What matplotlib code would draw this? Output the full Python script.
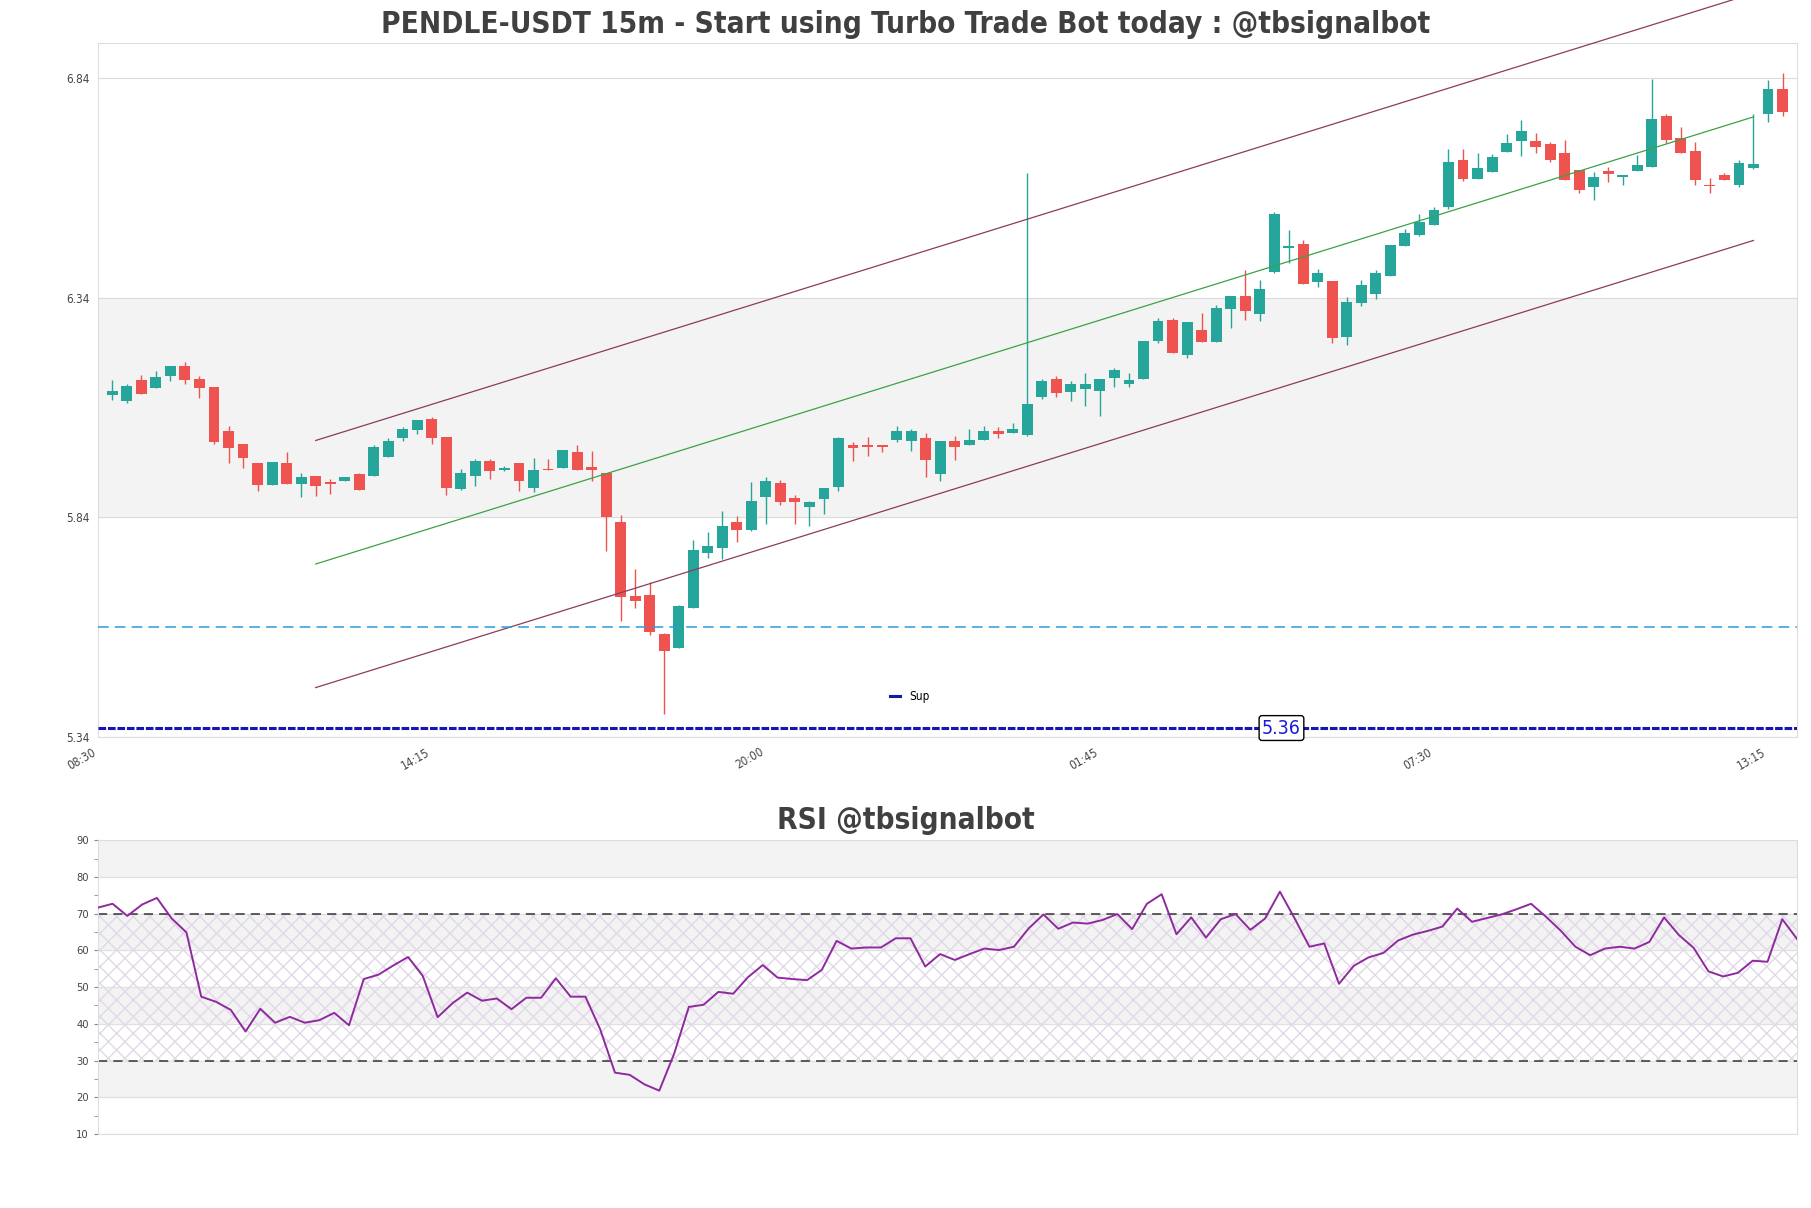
"""Recreate PENDLE-USDT 15m candlestick chart with channel + RSI panel."""
import matplotlib
matplotlib.use("Agg")
import matplotlib.pyplot as plt
from matplotlib.lines import Line2D
import numpy as np

plt.rcParams["font.family"] = ["DejaVu Sans"]
plt.rcParams["font.stretch"] = "condensed"

# ---------------------------------------------------------------------------
# Data
# ---------------------------------------------------------------------------
OPEN = [6.117, 6.103, 6.151, 6.133, 6.161, 6.183, 6.153, 6.135, 6.035, 6.007,
        5.962, 5.912, 5.962, 5.914, 5.934, 5.920, 5.921, 5.937, 5.934, 5.976,
        6.019, 6.038, 6.062, 6.022, 5.903, 5.933, 5.968, 5.946, 5.962, 5.905,
        5.949, 5.951, 5.987, 5.953, 5.939, 5.829, 5.661, 5.663, 5.574, 5.543,
        5.633, 5.759, 5.769, 5.829, 5.811, 5.885, 5.918, 5.884, 5.862, 5.882,
        5.908, 6.004, 6.004, 6.004, 6.014, 6.012, 6.020, 5.938, 6.012, 6.003,
        6.016, 6.035, 6.031, 6.027, 6.114, 6.154, 6.125, 6.130, 6.127, 6.157,
        6.142, 6.153, 6.241, 6.289, 6.209, 6.265, 6.237, 6.313, 6.343, 6.301,
        6.398, 6.451, 6.462, 6.374, 6.377, 6.249, 6.326, 6.347, 6.388, 6.457,
        6.481, 6.503, 6.544, 6.652, 6.609, 6.624, 6.671, 6.696, 6.695, 6.688,
        6.669, 6.629, 6.591, 6.627, 6.614, 6.628, 6.637, 6.752, 6.703, 6.672,
        6.595, 6.618, 6.594, 6.633, 6.756, 6.813]
HIGH = [6.151, 6.142, 6.162, 6.173, 6.183, 6.193, 6.161, 6.135, 6.048, 6.007,
        5.962, 5.964, 5.987, 5.939, 5.934, 5.927, 5.932, 5.940, 6.003, 6.019,
        6.045, 6.061, 6.067, 6.022, 5.950, 5.973, 5.971, 5.955, 5.962, 5.975,
        5.971, 5.993, 6.004, 5.991, 5.939, 5.845, 5.722, 5.693, 5.576, 5.640,
        5.788, 5.807, 5.854, 5.842, 5.919, 5.930, 5.925, 5.890, 5.877, 5.906,
        6.022, 6.011, 6.022, 6.004, 6.048, 6.041, 6.031, 6.012, 6.025, 6.039,
        6.048, 6.044, 6.053, 6.622, 6.154, 6.161, 6.149, 6.167, 6.154, 6.179,
        6.167, 6.240, 6.292, 6.292, 6.283, 6.305, 6.322, 6.343, 6.402, 6.380,
        6.534, 6.493, 6.470, 6.405, 6.377, 6.340, 6.380, 6.402, 6.459, 6.496,
        6.528, 6.544, 6.678, 6.677, 6.667, 6.665, 6.711, 6.743, 6.713, 6.694,
        6.697, 6.629, 6.625, 6.637, 6.618, 6.663, 6.836, 6.757, 6.726, 6.694,
        6.612, 6.622, 6.653, 6.756, 6.834, 6.849]
LOW = [6.106, 6.100, 6.120, 6.133, 6.149, 6.142, 6.111, 6.006, 5.962, 5.951,
       5.899, 5.912, 5.914, 5.885, 5.887, 5.893, 5.921, 5.901, 5.934, 5.976,
       6.013, 6.028, 6.006, 5.889, 5.902, 5.910, 5.927, 5.944, 5.899, 5.896,
       5.946, 5.951, 5.946, 5.921, 5.762, 5.604, 5.633, 5.572, 5.393, 5.543,
       5.633, 5.747, 5.745, 5.784, 5.809, 5.823, 5.868, 5.823, 5.820, 5.847,
       5.899, 5.967, 5.978, 5.987, 6.010, 5.991, 5.931, 5.921, 5.969, 6.003,
       6.014, 6.019, 6.031, 6.025, 6.108, 6.112, 6.104, 6.092, 6.070, 6.136,
       6.135, 6.153, 6.235, 6.214, 6.201, 6.237, 6.237, 6.269, 6.289, 6.286,
       6.394, 6.417, 6.371, 6.364, 6.235, 6.231, 6.320, 6.335, 6.388, 6.457,
       6.478, 6.503, 6.540, 6.605, 6.609, 6.624, 6.671, 6.662, 6.669, 6.647,
       6.606, 6.578, 6.561, 6.603, 6.594, 6.628, 6.637, 6.691, 6.667, 6.596,
       6.578, 6.606, 6.590, 6.631, 6.739, 6.753]
CLOSE = [6.126, 6.139, 6.120, 6.158, 6.183, 6.152, 6.133, 6.010, 5.997, 5.974,
         5.912, 5.964, 5.914, 5.930, 5.910, 5.916, 5.932, 5.901, 6.000, 6.012,
         6.039, 6.060, 6.019, 5.905, 5.941, 5.968, 5.944, 5.952, 5.921, 5.948,
         5.946, 5.993, 5.946, 5.946, 5.839, 5.657, 5.648, 5.579, 5.536, 5.638,
         5.766, 5.775, 5.820, 5.810, 5.877, 5.921, 5.875, 5.873, 5.873, 5.905,
         6.019, 5.997, 5.999, 5.999, 6.035, 6.035, 5.969, 6.012, 5.999, 6.016,
         6.035, 6.028, 6.041, 6.098, 6.149, 6.123, 6.142, 6.142, 6.154, 6.174,
         6.151, 6.240, 6.286, 6.214, 6.283, 6.237, 6.315, 6.343, 6.309, 6.358,
         6.529, 6.456, 6.371, 6.394, 6.246, 6.329, 6.367, 6.394, 6.459, 6.487,
         6.510, 6.538, 6.647, 6.609, 6.633, 6.658, 6.690, 6.718, 6.682, 6.652,
         6.606, 6.584, 6.613, 6.619, 6.618, 6.641, 6.745, 6.697, 6.667, 6.606,
         6.593, 6.606, 6.645, 6.642, 6.813, 6.762]

RSI = [71.65, 72.7, 69.4, 72.5, 74.3, 68.7, 64.9, 47.4, 46.0, 43.8,
       37.9, 44.1, 40.3, 41.9, 40.3, 41.0, 43.0, 39.6, 52.2, 53.4,
       55.9, 58.2, 53.0, 41.8, 45.6, 48.5, 46.3, 46.9, 44.0, 47.1,
       47.1, 52.4, 47.4, 47.4, 38.5, 26.7, 26.1, 23.5, 21.8, 31.8,
       44.6, 45.2, 48.7, 48.2, 52.7, 56.0, 52.6, 52.2, 51.9, 54.7,
       62.6, 60.5, 60.8, 60.8, 63.3, 63.3, 55.6, 59.0, 57.4, 59.0,
       60.5, 60.1, 61.0, 66.0, 69.8, 65.9, 67.6, 67.3, 68.3, 69.9,
       65.8, 72.7, 75.3, 64.4, 69.0, 63.5, 68.5, 69.9, 65.6, 68.7,
       76.0, 68.7, 61.0, 61.9, 50.9, 55.8, 58.1, 59.3, 62.7, 64.3,
       65.3, 66.5, 71.4, 67.8, 68.8, 69.8, 71.2, 72.7, 69.2, 65.4,
       61.0, 58.7, 60.5, 61.0, 60.5, 62.3, 69.0, 64.2, 60.7, 54.3,
       52.9, 53.9, 57.2, 56.9, 68.5, 63.1]

TICK_LABELS = ["08:30", "14:15", "20:00", "01:45", "07:30", "13:15"]
TICK_STEP = 23

# regression channel (bar index, mid price), half width
CHANNEL_X = [15, 114]
CHANNEL_MID = [5.733, 6.750]
CHANNEL_WIDTH = 0.281

SUPPORT = 5.36
DASHED_LEVEL = 5.590

TITLE = "PENDLE-USDT 15m - Start using Turbo Trade Bot today : @tbsignalbot"
RSI_TITLE = "RSI @tbsignalbot"

UP = "#26a69a"
DOWN = "#ef5350"
SUP_COLOR = "#1616b0"


# ---------------------------------------------------------------------------
# Price panel
# ---------------------------------------------------------------------------
def draw_price(ax):
    n = len(CLOSE)
    x = np.arange(1, n + 1)
    o, h, l, c = map(np.array, (OPEN, HIGH, LOW, CLOSE))
    up = c >= o
    colors = np.where(up, UP, DOWN)

    ymin, ymax = l.min() * 0.99, h.max() * 1.01
    ticks = np.arange(ymin, ymax, 0.5)

    # background band + grid
    ax.axhspan(ticks[1], ticks[2], color="#f3f3f3", zorder=0)
    for t in ticks:
        ax.axhline(t, color="#dcdcdc", lw=0.8, zorder=0.5)

    ax.vlines(x, l, h, colors=colors, lw=1.0, zorder=2)
    ax.bar(x, np.abs(c - o), bottom=np.minimum(o, c), width=0.75,
           color=colors, zorder=3)

    # channel
    mid = np.array(CHANNEL_MID)
    ax.plot(CHANNEL_X, mid, color="#3aa346", lw=0.9, zorder=4)
    ax.plot(CHANNEL_X, mid + CHANNEL_WIDTH, color="#8c3b5c", lw=0.9,
            zorder=4, clip_on=False)
    ax.plot(CHANNEL_X, mid - CHANNEL_WIDTH, color="#8c3b5c", lw=0.9, zorder=4)

    ax.axhline(DASHED_LEVEL, color="#2a9bdc", lw=1.1, ls=(0, (7, 4)), zorder=4)
    ax.axhline(SUPPORT, color=SUP_COLOR, lw=2.2, ls=(0, (2.5, 0.6)), zorder=4)
    ax.text(81.5, SUPPORT, f"{SUPPORT:.2f}", color="#1a1ad8", fontsize=14,
            ha="center", va="center", zorder=6,
            bbox=dict(boxstyle="round,pad=0.15", fc="white", ec="black", lw=1))

    ax.set_xlim(0, n + 1)
    ax.set_ylim(ymin, ymax)
    ax.set_yticks(ticks)
    ax.set_yticklabels([f"{t:.2f}" for t in ticks])
    ax.set_xticks(np.arange(0, n, TICK_STEP))
    ax.set_xticklabels(TICK_LABELS, rotation=30, ha="right")
    ax.tick_params(length=0, labelsize=8.5, labelcolor="#444444", pad=6)
    for s in ax.spines.values():
        s.set_color("#dddddd")

    handle = Line2D([], [], color=SUP_COLOR, lw=2.2)
    ax.legend([handle], ["Sup"], loc="center", bbox_to_anchor=(0.478, 0.058),
              frameon=False, fontsize=8.5, handlelength=0.8)


# ---------------------------------------------------------------------------
# RSI panel
# ---------------------------------------------------------------------------
def draw_rsi(ax):
    k = np.arange(len(RSI))
    for lo in (20, 40, 60, 80):
        ax.axhspan(lo, lo + 10, color="#f3f3f3", zorder=0)
    ax.axhspan(30, 70, facecolor="none", hatch="xx", edgecolor="#e2d8e8",
               lw=0, zorder=0.6)
    for t in range(10, 100, 10):
        ax.axhline(t, color="#e0e0e0", lw=0.8, zorder=0.5)
    ax.axhline(70, color="#333333", lw=1.1, ls=(0, (6, 4)), zorder=2)
    ax.axhline(30, color="#333333", lw=1.1, ls=(0, (6, 4)), zorder=2)
    ax.plot(k, RSI, color="#8e2a9e", lw=1.4, zorder=3)

    ax.set_xlim(0, len(RSI) - 1)
    ax.set_ylim(10, 90)
    ax.set_yticks(range(10, 100, 10))
    ax.set_yticks(range(15, 90, 10), minor=True)
    ax.set_xticks([])
    ax.tick_params(axis="y", which="both", length=3, color="#888888",
                   labelsize=8, labelcolor="#444444")
    for s in ax.spines.values():
        s.set_color("#dddddd")


def main():
    fig = plt.figure(figsize=(18.11, 12.08), dpi=100)
    ax = fig.add_axes([0.054, 0.3897, 0.9383, 0.5745])
    ax_rsi = fig.add_axes([0.054, 0.0613, 0.9383, 0.2431])

    draw_price(ax)
    draw_rsi(ax_rsi)

    fig.text(0.5, 1 - 33 / 1208, TITLE, ha="center", va="baseline",
             fontsize=21.3, fontweight="bold", color="#404040")
    fig.text(0.5, 1 - 829 / 1208, RSI_TITLE, ha="center", va="baseline",
             fontsize=21.3, fontweight="bold", color="#404040")

    fig.savefig("out.png", dpi=100)


if __name__ == "__main__":
    main()
